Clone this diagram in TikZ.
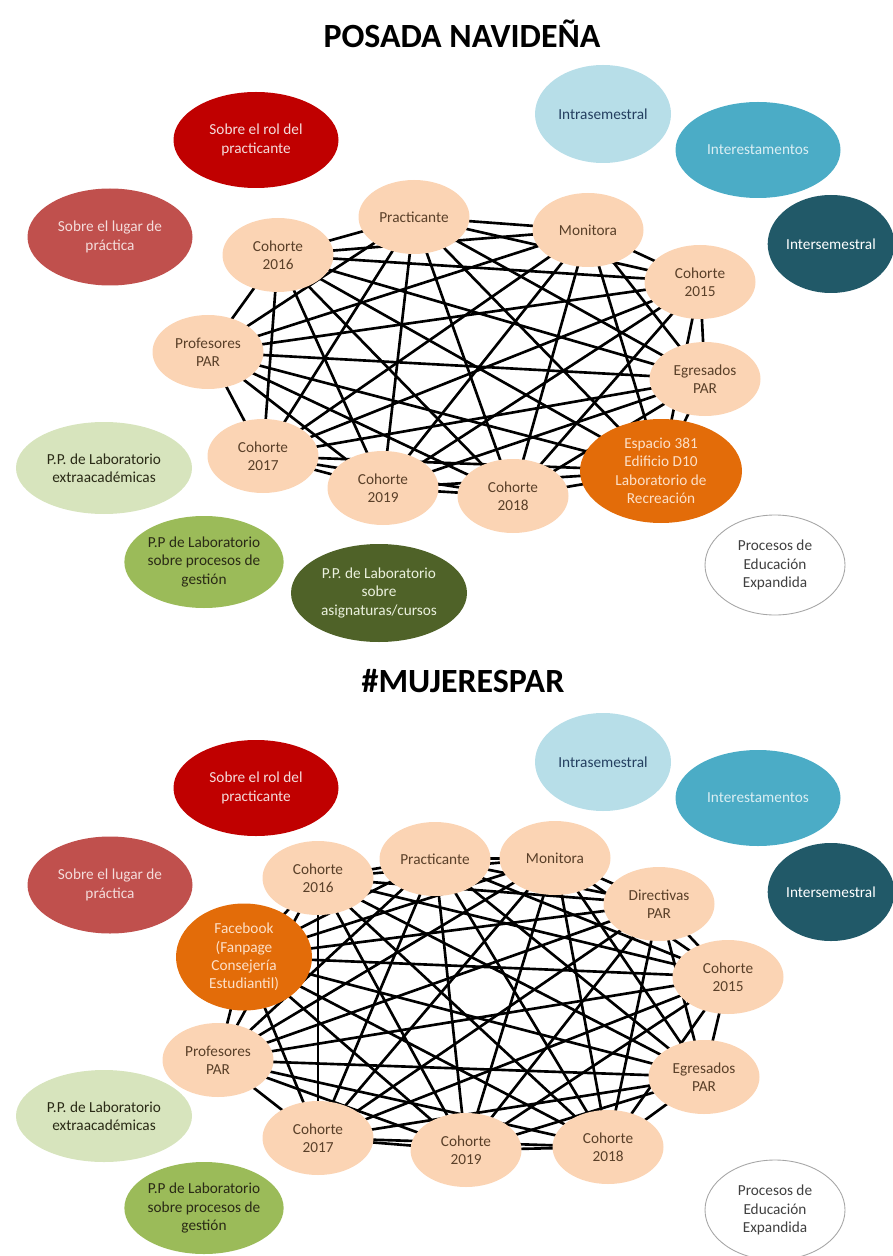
\documentclass[tikz,border=0pt]{standalone}
\usepackage{fontspec}
\setmainfont{Carlito}
\usetikzlibrary{shapes.geometric,backgrounds}
\definecolor{peach}{HTML}{FBD4B4}
\definecolor{peachtext}{HTML}{5A4029}
\definecolor{orangeA}{HTML}{E36C09}
\definecolor{orangetext}{HTML}{FDE0C8}
\definecolor{darkred}{HTML}{C00000}
\definecolor{redB}{HTML}{C0504D}
\definecolor{pinktext}{HTML}{F4DCDB}
\definecolor{lightblue}{HTML}{B7DEE8}
\definecolor{lightbluetext}{HTML}{243F60}
\definecolor{midblue}{HTML}{4BACC6}
\definecolor{midbluetext}{HTML}{DAEEF3}
\definecolor{darkteal}{HTML}{215968}
\definecolor{lightgreen}{HTML}{D7E4BD}
\definecolor{midgreen}{HTML}{9BBB59}
\definecolor{darkgreen}{HTML}{4F6228}
\definecolor{greentext}{HTML}{2A2A16}
\definecolor{lightgreentext}{HTML}{EBF1DE}
\definecolor{graytext}{HTML}{404040}
\begin{document}
\begin{tikzpicture}[x=0.02cm,y=-0.02cm]
\tikzset{
  bub/.style 2 args={ellipse, inner sep=0pt, align=center,
    minimum width=#1*0.02cm, minimum height=#2*0.02cm,
    font=\fontsize{8.7}{10.5}\selectfont},
  peachnode/.style={bub={111}{74}, fill=peach, text=peachtext},
  orangenode/.style={fill=orangeA, text=orangetext},
  titletext/.style={font=\fontsize{19.3}{23}\selectfont\bfseries, text=black},
  link/.style={line width=1.5pt, black},
  rolnode/.style={bub={165}{96}, fill=darkred, text=pinktext},
  lugnode/.style={bub={165}{97}, fill=redB, text=pinktext},
  intranode/.style={bub={136}{98}, fill=lightblue, text=lightbluetext},
  internode/.style={bub={165}{96}, fill=midblue, text=midbluetext},
  semnode/.style={bub={122}{98}, fill=darkteal, text=white},
  extranode/.style={bub={176}{92}, fill=lightgreen, text=greentext},
  gestnode/.style={bub={156}{92}, fill=midgreen, text=greentext},
  asignode/.style={bub={176}{98}, fill=darkgreen, text=lightgreentext},
  procnode/.style={bub={140}{100}, fill=white, draw=gray!70, line width=0.5pt, text=graytext}
}
\useasboundingbox (0,0) rectangle (892,1256);

% ---------------- top diagram ----------------
\node[titletext] (title1) at (462,34) {POSADA NAVIDEÑA};
\node[rolnode] (trol) at (256,140) {Sobre el rol del\\practicante};
\node[lugnode] (tlug) at (110,237) {Sobre el lugar de\\práctica};
\node[intranode] (tintra) at (603,114) {Intrasemestral};
\node[internode] (tinter) at (758,150) {Interestamentos};
\node[semnode] (tsem) at (831,244) {Intersemestral};

\node[peachnode] (tpr) at (414,217) {Practicante};
\node[peachnode] (tmo) at (588,230) {Monitora};
\node[peachnode] (t16) at (278,255) {Cohorte\\2016};
\node[peachnode] (t15) at (700,282) {Cohorte\\2015};
\node[peachnode] (tprof) at (208,352) {Profesores\\PAR};
\node[peachnode] (tegr) at (705,379) {Egresados\\PAR};
\node[peachnode] (t17) at (263,456) {Cohorte\\2017};
\node[peachnode] (t19) at (383,488) {Cohorte\\2019};
\node[peachnode] (t18) at (513,496) {Cohorte\\2018};
\node[bub={162}{104}, orangenode] (tesp) at (661,471) {Espacio 381\\Edificio D10\\Laboratorio de\\Recreación};

\node[extranode] (textra) at (104,468) {P.P. de Laboratorio\\extraacadémicas};
\node[gestnode] (tgest) at (204,562) {P.P de Laboratorio\\sobre procesos de\\gestión};
\node[asignode] (tasig) at (379,593) {P.P. de Laboratorio\\sobre\\asignaturas/cursos};
\node[procnode] (tproc) at (775,565) {Procesos de\\Educación\\Expandida};

% ---------------- bottom diagram ----------------
\node[titletext] (title2) at (463,681) {\#MUJERESPAR};
\node[rolnode] (brol) at (256,788) {Sobre el rol del\\practicante};
\node[lugnode] (blug) at (110,885) {Sobre el lugar de\\práctica};
\node[intranode] (bintra) at (603,762) {Intrasemestral};
\node[internode] (binter) at (758,798) {Interestamentos};
\node[semnode] (bsem) at (831,892) {Intersemestral};

\node[peachnode] (b16) at (318,878) {Cohorte\\2016};
\node[peachnode] (bpr) at (435,859) {Practicante};
\node[peachnode] (bmo) at (555,858) {Monitora};
\node[peachnode] (bdir) at (659,904) {Directivas\\PAR};
\node[bub={136}{107}, orangenode] (bfb) at (244,957) {Facebook\\(Fanpage\\Consejería\\Estudiantil)};
\node[peachnode] (b15) at (728,977) {Cohorte\\2015};
\node[peachnode] (bprof) at (218,1060) {Profesores\\PAR};
\node[peachnode] (begr) at (704,1077) {Egresados\\PAR};
\node[peachnode] (b17) at (318,1138) {Cohorte\\2017};
\node[peachnode] (b19) at (466,1150) {Cohorte\\2019};
\node[peachnode] (b18) at (608,1147) {Cohorte\\2018};

\node[extranode] (bextra) at (104,1116) {P.P. de Laboratorio\\extraacadémicas};
\node[gestnode] (bgest) at (204,1208) {P.P de Laboratorio\\sobre procesos de\\gestión};
\node[procnode] (bproc) at (775,1210) {Procesos de\\Educación\\Expandida};

% ---------------- connectors (complete graphs) ----------------
\def\toplist{tpr,tmo,t16,t15,tprof,tegr,t17,t19,t18,tesp}
\def\botlist{b16,bpr,bmo,bdir,bfb,b15,bprof,begr,b17,b19,b18}
\begin{pgfonlayer}{background}
\foreach \a [count=\i] in \toplist {
  \foreach \b [count=\j] in \toplist {
    \ifnum\j>\i \draw[link] (\a.center) -- (\b.center); \fi
  }
}
\foreach \a [count=\i] in \botlist {
  \foreach \b [count=\j] in \botlist {
    \ifnum\j>\i \draw[link] (\a.center) -- (\b.center); \fi
  }
}
\end{pgfonlayer}
\end{tikzpicture}
\end{document}
